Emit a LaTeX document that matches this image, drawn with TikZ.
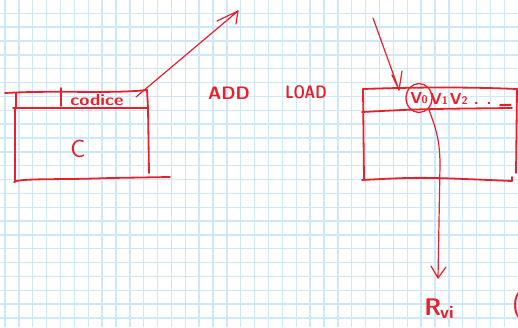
\documentclass[tikz,border=0pt]{standalone}
\usetikzlibrary{shapes.geometric}
\definecolor{ink}{RGB}{232,32,44}
\definecolor{gridblue}{RGB}{206,232,248}
\tikzset{
  pen/.style={draw=ink, line width=1.2pt, line cap=round, line join=round},
  boxpen/.style={pen, line width=1.8pt},
  hand/.style={text=ink, font=\sffamily\bfseries, inner sep=0pt},
}
\begin{document}
\begin{tikzpicture}[x=1pt,y=-1pt]
\useasboundingbox (0,0) rectangle (518,327);
\fill[white] (0,0) rectangle (518,327);

% squared paper
\foreach \i in {0,...,37}
  \draw[gridblue, line width=1.4pt] ({5+13.87*\i},0) -- ({5+13.87*\i},327);
\foreach \j in {0,...,23}
  \draw[gridblue, line width=1.4pt] (0,{-0.55+13.85*\j}) -- (518,{-0.55+13.85*\j});

% ---- left record: header row with the "codice" cell, body C
\draw[boxpen] (5,93) .. controls (60,90) and (110,94) .. (147,90);
\draw[boxpen] (16,93) -- (16,108);
\draw[boxpen] (61,88) -- (61,106);
\draw[boxpen] (13,108) -- (147,108);
\draw[boxpen] (147,90) -- (148,108) -- (149,173);
\draw[boxpen] (15,108) -- (15,182);
\draw[boxpen] (14,182) .. controls (20,178) and (60,180) .. (110,178) .. controls (140,177) .. (170,177);

\node[hand] (codice) at (97,100) {\scalebox{1.15}[1]{\fontsize{16}{16}\selectfont codice}};
\node[hand, font=\sffamily] (cbig) at (78,149) {\fontsize{25}{25}\selectfont C};

% outgoing pointer from the codice cell
\coordinate (cstart) at (136,97);
\coordinate (ctip) at (238,11);
\draw[pen] (cstart) -- (ctip) -- (217,21);
\draw[pen] (ctip) -- (236,24);

% ---- operations
\node[hand] (add) at (229,93) {\fontsize{18}{18}\selectfont ADD};
\node[hand] (load) at (306,92) {\scalebox{0.8}[1]{\fontsize{18}{18}\selectfont\bfseries LOAD}};

% ---- right record: V0 V1 V2 ...
\draw[boxpen] (363,89) .. controls (420,87) and (470,87) .. (517,89);
\draw[boxpen] (363,89) -- (364,180);
\draw[boxpen] (362,112) .. controls (420,109) .. (512,108);
\draw[boxpen] (517,89) -- (516,173);
\draw[boxpen] (362,180) .. controls (420,177) .. (512,181) -- (512,177);

\node[ellipse, draw=ink, line width=1.3pt, minimum width=26pt, minimum height=29pt,
      inner sep=0pt, text=ink, font=\sffamily\bfseries] (v0) at (419,98)
      {\raisebox{-2pt}{\fontsize{16}{16}\selectfont V\kern-0.5pt{\fontsize{11}{11}\selectfont 0}}};
\node[hand, anchor=west] (vrest) at (430,100)
      {\fontsize{16}{16}\selectfont V{\fontsize{11}{11}\selectfont 1}\kern2pt V{\fontsize{11}{11}\selectfont 2}\kern6pt.\kern8pt.\kern8pt\raisebox{1pt}{\_}};

% incoming pointer onto V0
\coordinate (lsrc) at (373,18);
\coordinate (ltip) at (399,90);
\draw[pen] (lsrc) -- (ltip) -- (392,75);
\draw[pen] (ltip) -- (402,71);

% V0 taken out to Rvi
\node[hand] (rvi) at (439,309) {\fontsize{24}{24}\selectfont R\kern-1pt\raisebox{-3pt}{\fontsize{18}{18}\selectfont vi}};
\coordinate (rtip) at (438,278);
\draw[pen] (v0.south east) .. controls (433,122) and (440,135) .. (440,165) -- (rtip) -- (431,266);
\draw[pen] (rtip) -- (446,267);

\node[hand, font=\sffamily, anchor=west] (paren) at (512,306) {\fontsize{28}{28}\selectfont (};
\end{tikzpicture}
\end{document}
